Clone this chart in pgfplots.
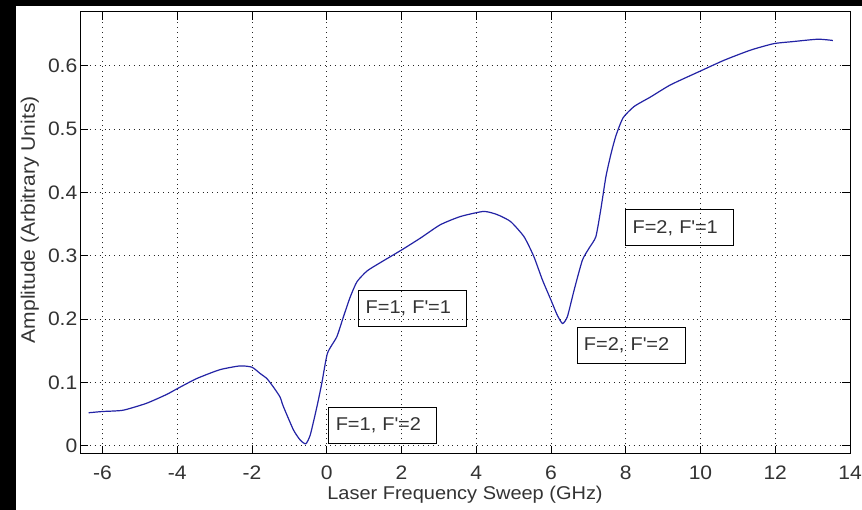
\documentclass[border=0pt]{standalone}
\usepackage{fontspec}
\setmainfont{Liberation Sans}[FakeStretch=1.08]
\usepackage{pgfplots}
\pgfplotsset{compat=1.18}
\newcommand\lbl{\fontsize{18.5}{21}\selectfont}
\newcommand\tlbl{\fontsize{19.5}{22}\selectfont}
\definecolor{trace}{RGB}{35,35,165}

\begin{document}
\begin{tikzpicture}
% figure background
\fill[black] (0,0) rectangle (862pt,510pt);
\fill[white] (16pt,0) rectangle (862pt,504pt);
\begin{axis}[
  at={(80pt,56pt)}, anchor=south west,
  width=770pt, height=442pt, scale only axis,
  xmin=-6.6, xmax=14, ymin=-0.0131, ymax=0.685,
  xtick={-6,-4,...,14}, ytick={0,0.1,0.2,0.3,0.4,0.5,0.6},
  tick align=inside, major tick length=8pt,
  tick pos=both,
  grid=major,
  major grid style={black!85, line width=0.7pt, dash pattern=on 0.9pt off 4pt},
  axis line style={line width=1pt},
  every tick/.style={black, line width=0.8pt},
  /pgf/number format/assume math mode=true,
  tick label style={font=\tlbl, text=black!80},
  yticklabel style={inner sep=0pt, xshift=-2.5pt},
  xticklabel style={inner sep=0pt, yshift=-12pt},
  xlabel={Laser Frequency Sweep (GHz)},
  ylabel={Amplitude (Arbitrary Units)},
  xlabel style={font=\lbl, text=black!80, at={(axis description cs:0.5,-0.093)}, anchor=center},
  ylabel style={font=\tlbl, text=black!80, at={(axis description cs:-0.065,0.53)}, anchor=center},
  clip=true,
]
\addplot[trace, line width=1.2pt, smooth, tension=0.35] coordinates {
(-6.37,0.052) (-6.0,0.054) (-5.45,0.056) (-4.82,0.067) (-4.28,0.081)
(-4.0,0.090) (-3.48,0.106) (-2.86,0.120) (-2.32,0.126) (-2.0,0.124)
(-1.78,0.114) (-1.6,0.106) (-1.43,0.093) (-1.25,0.077) (-1.16,0.062)
(-0.89,0.025) (-0.71,0.009) (-0.56,0.003) (-0.44,0.017) (-0.26,0.062)
(-0.13,0.099) (0.02,0.146) (0.27,0.172) (0.45,0.204) (0.63,0.235)
(0.81,0.259) (1.08,0.276) (1.43,0.289) (2.0,0.309) (2.51,0.328)
(3.04,0.349) (3.58,0.362) (4.2,0.370) (4.56,0.365) (4.92,0.354)
(5.28,0.330) (5.54,0.299) (5.77,0.262) (6.0,0.230) (6.17,0.206)
(6.31,0.193) (6.44,0.204) (6.62,0.246) (6.84,0.293) (7.02,0.312)
(7.2,0.330) (7.33,0.372) (7.47,0.425) (7.61,0.462) (7.74,0.490)
(7.93,0.518) (8.23,0.536) (8.67,0.551) (9.2,0.570) (9.97,0.591)
(10.64,0.609) (11.35,0.625) (11.96,0.635) (12.43,0.638) (13.14,0.642)
(13.54,0.640)
};
\tikzset{tag/.style={draw=black, line width=0.8pt, minimum height=36pt,
  text width=94pt, inner xsep=7pt, inner ysep=0pt, align=left,
  font=\lbl, text=black!80}}
\node[tag] at (axis cs:1.50,0.032) {F=1, F\textquotesingle=2};
\node[tag] at (axis cs:2.30,0.217) {F=1, F\textquotesingle=1};
\node[tag] at (axis cs:8.14,0.1586) {F=2, F\textquotesingle=2};
\node[tag] at (axis cs:9.44,0.344) {F=2, F\textquotesingle=1};
\end{axis}
\pgfresetboundingbox
\path (0,0) rectangle (862pt,510pt);
\end{tikzpicture}
\end{document}
